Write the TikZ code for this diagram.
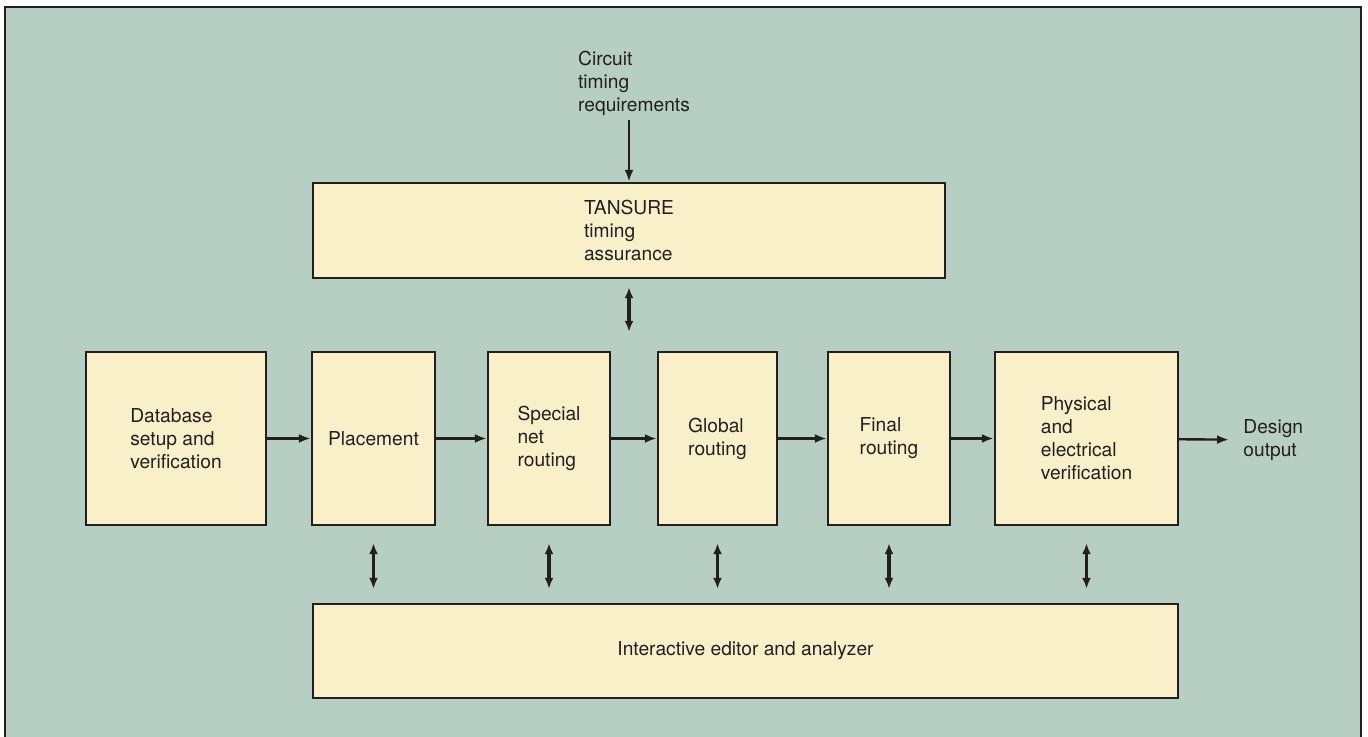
\documentclass[tikz,border=0pt]{standalone}
\usepackage{fontspec}
\setmainfont{TeX Gyre Heros}
\usepackage{tikz}
\usetikzlibrary{arrows.meta}
\definecolor{panel}{RGB}{183,207,195}
\definecolor{boxfill}{RGB}{249,240,202}
\definecolor{ink}{RGB}{35,31,32}
\def\stagenode{\node[draw=ink,line width=1.2pt,fill=boxfill,align=left,text=ink,inner sep=0pt]}
\def\labelnode{\node[align=left,text=ink,inner sep=2pt]}
\def\drawflow{\draw[color=ink,line width=1.2pt,-{Latex[length=6pt,width=4.5pt]}]}
\def\drawlink{\draw[color=ink,line width=1.8pt,{Latex[length=5.5pt,width=4.5pt]}-{Latex[length=5.5pt,width=4.5pt]}]}

\begin{document}
\begin{tikzpicture}[x=0.5pt,y=-0.5pt,font=\fontsize{9.6}{11.5}\selectfont]
\useasboundingbox (0,0) rectangle (1368,737);
\fill[panel] (5,7) rectangle (1361,737);
\draw[color=ink,line width=1pt] (5,737) -- (5,7) -- (1361,7) -- (1361,737);
\labelnode (circ) at (634,83) {Circuit\\timing\\requirements};
\stagenode[minimum width=316pt,minimum height=47.5pt] (tansure) at (629,230.5) {TANSURE\\timing\\assurance};
\stagenode[minimum width=90pt,minimum height=86.5pt] (db) at (176,438.5) {Database\\setup and\\verification};
\stagenode[minimum width=61.5pt,minimum height=86.5pt] (place) at (373.5,438.5) {Placement};
\stagenode[minimum width=61pt,minimum height=86.5pt] (special) at (549,438.5) {Special\\net\\routing};
\stagenode[minimum width=59.5pt,minimum height=86.5pt] (global) at (717.5,438.5) {Global\\routing};
\stagenode[minimum width=61pt,minimum height=86.5pt] (final) at (889,438.5) {Final\\routing};
\stagenode[minimum width=91.5pt,minimum height=86.5pt] (phys) at (1086.5,438.5) {Physical\\and\\electrical\\verification};
\stagenode[minimum width=432.5pt,minimum height=47pt] (inter) at (745.5,651) {Interactive editor and analyzer};
\labelnode[anchor=west] (out) at (1239,440) {Design\\output};
\drawflow (circ.south -| tansure.north) to (tansure.north);
\drawflow (db) to (place);
\drawflow (place) to (special);
\drawflow (special) to (global);
\drawflow (global) to (final);
\drawflow (final) to (phys);
\drawflow[shorten >=5pt] (phys) to (out);
\drawlink[shorten <=4pt,shorten >=9.5pt] (tansure.south) to (tansure.south |- db.north);
\foreach \n in {place,special,global,final,phys}
  \drawlink[shorten <=8.5pt,shorten >=7pt] (\n.south) to (\n.south |- inter.north);
\end{tikzpicture}
\end{document}
